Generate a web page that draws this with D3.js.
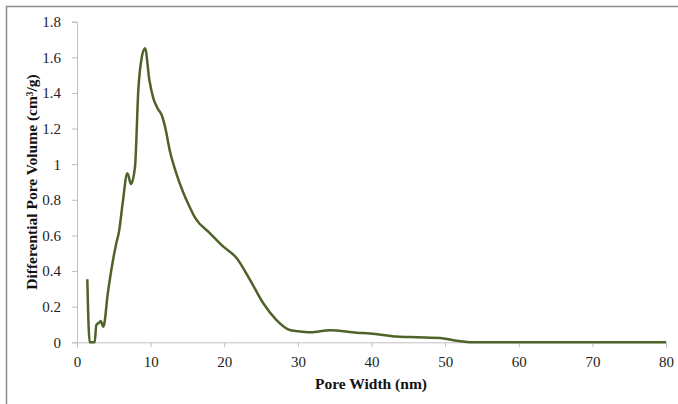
<!DOCTYPE html>
<html>
<head>
<meta charset="utf-8">
<script src="https://cdn.jsdelivr.net/npm/d3@7"></script>
<style>
  html, body { margin: 0; padding: 0; background: #fff; }
  svg { display: block; }
</style>
</head>
<body>
<svg id="chart" width="678" height="404"></svg>
<script>
// Pore size distribution: pore width (nm) vs differential pore volume (cm³/g)
const poreWidth = [1.4, 1.72, 2.0, 2.4, 2.62, 3.0, 3.22, 3.58, 4.2, 4.8, 5.34, 5.7, 6.2, 6.84, 7.34, 7.88, 8.33, 8.8, 9.24, 9.83, 10.37, 11.0, 11.5, 11.96, 12.64, 13.4, 14.44, 15.3, 16.03, 18.07, 19.88, 21.7, 23.5, 25.3, 27.1, 28.9, 30.0, 31.7, 34.4, 38.0, 39.8, 43.4, 46.2, 49.8, 51.6, 53.8, 56, 60, 65, 70, 75, 80];
const poreVolume = [0.354, 0, 0, 0, 0.097, 0.11, 0.12, 0.088, 0.28, 0.44, 0.556, 0.62, 0.78, 0.949, 0.889, 0.986, 1.417, 1.6, 1.651, 1.473, 1.37, 1.31, 1.276, 1.21, 1.07, 0.96, 0.84, 0.76, 0.70, 0.612, 0.537, 0.472, 0.35, 0.219, 0.125, 0.069, 0.062, 0.056, 0.067, 0.054, 0.05, 0.032, 0.028, 0.022, 0.009, 0, 0, 0, 0, 0, 0, 0];
const xTicks = [0, 10, 20, 30, 40, 50, 60, 70, 80];
const yTicks = [0, 0.2, 0.4, 0.6, 0.8, 1, 1.2, 1.4, 1.6, 1.8];

const svg = d3.select("#chart");
const W = 678, H = 404;

// outer frame (top and left edges)
svg.append("path")
  .attr("d", `M6.5,${H} V6.5 H${W}`)
  .attr("fill", "none")
  .attr("stroke", "#8c8c8c")
  .attr("stroke-width", 1.5);

const x = d3.scaleLinear().domain([0, 80]).range([77, 666]);
const y = d3.scaleLinear().domain([0, 1.8]).range([342.3, 21.7]);

const axisColor = "#bfbfbf";
const font = "'Liberation Serif', 'Times New Roman', serif";
const tickSize = 15;
const titleSize = 15.5;

// y axis
const yAxis = svg.append("g")
  .attr("transform", `translate(${x(0)},0)`)
  .call(d3.axisLeft(y).tickValues(yTicks).tickSize(5).tickPadding(11)
    .tickFormat(d => d3.format("~g")(d)));
yAxis.select(".domain").attr("stroke", axisColor);
yAxis.selectAll(".tick line").attr("stroke", axisColor);
yAxis.selectAll("text")
  .attr("font-family", font).attr("font-size", tickSize).attr("fill", "#222");

// x axis
const xAxis = svg.append("g")
  .attr("transform", `translate(0,${y(0)})`)
  .call(d3.axisBottom(x).tickValues(xTicks).tickSize(5).tickPadding(9)
    .tickFormat(d3.format("d")));
xAxis.select(".domain").attr("stroke", axisColor);
xAxis.selectAll(".tick line").attr("stroke", axisColor);
xAxis.selectAll("text")
  .attr("font-family", font).attr("font-size", tickSize).attr("fill", "#222");

// axis titles
svg.append("text")
  .attr("x", 371).attr("y", 389)
  .attr("text-anchor", "middle")
  .attr("font-family", font).attr("font-weight", "bold").attr("font-size", titleSize)
  .attr("fill", "#111")
  .text("Pore Width (nm)");

svg.append("text")
  .attr("transform", "translate(37,182) rotate(-90)")
  .attr("text-anchor", "middle")
  .attr("font-family", font).attr("font-weight", "bold").attr("font-size", titleSize)
  .attr("fill", "#111")
  .text("Differential Pore Volume (cm³/g)");

// distribution curve
const pts = poreWidth.map((w, i) => [w, poreVolume[i]]);
const line = d3.line()
  .x(d => x(d[0]))
  .y(d => y(d[1]))
  .curve(d3.curveMonotoneX);

svg.append("path")
  .datum(pts)
  .attr("d", line)
  .attr("fill", "none")
  .attr("stroke", "#4f6228")
  .attr("stroke-width", 2.5)
  .attr("stroke-linejoin", "round");
</script>
</body>
</html>
